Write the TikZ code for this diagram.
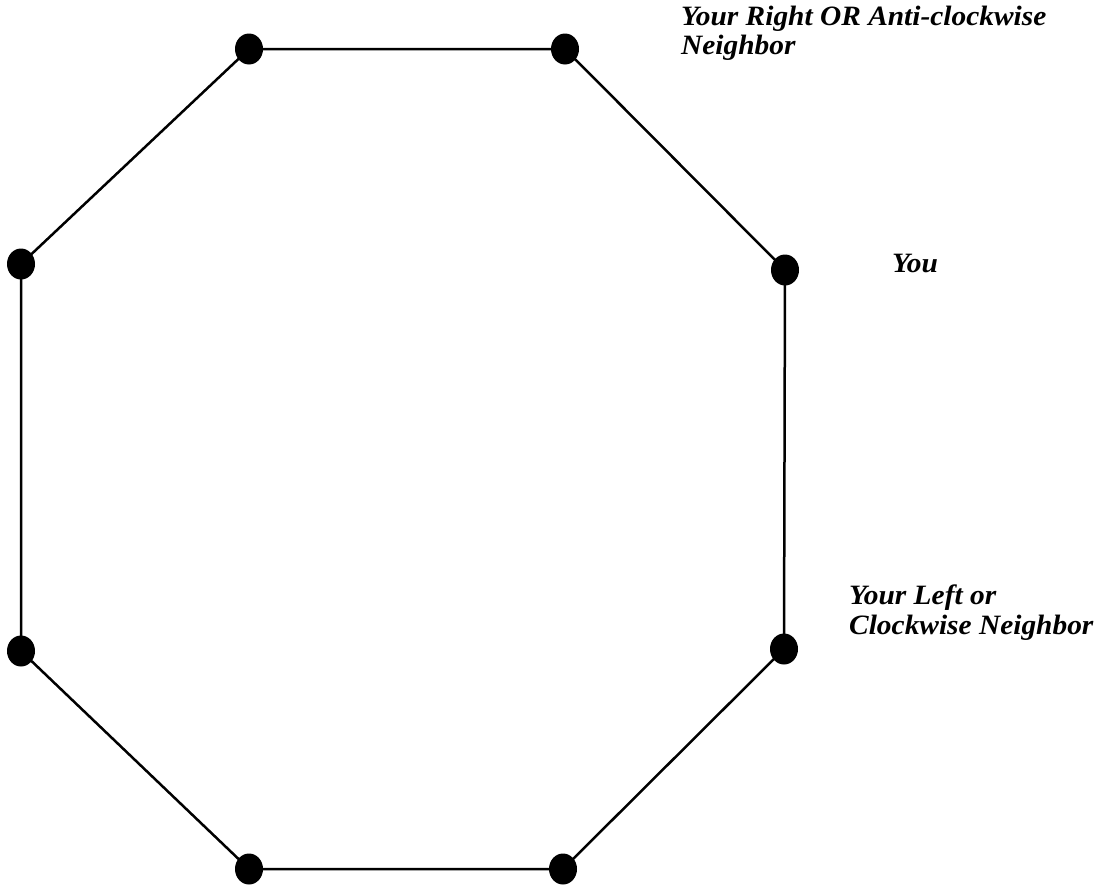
\documentclass[tikz,border=0pt]{standalone}
\usepackage{fontspec}
\setmainfont{Liberation Serif}
\usetikzlibrary{shapes.geometric}
\begin{document}
\begin{tikzpicture}[x=1pt,y=-1pt,
  edge/.style={line width=2.5pt, black},
  vdot/.style={ellipse, fill=black, minimum width=28pt, minimum height=31pt, inner sep=0pt},
  lbl/.style={anchor=base west, inner sep=0pt, xscale=1.05, font=\fontsize{28}{30}\selectfont\bfseries\itshape}]
\useasboundingbox (0,0) rectangle (1096,886);
\coordinate (A) at (249,49);
\coordinate (B) at (565,49);
\coordinate (C) at (785,270);
\coordinate (D) at (784,649);
\coordinate (E) at (563,869);
\coordinate (F) at (249,869);
\coordinate (G) at (21,651);
\coordinate (H) at (21,264);
\draw[edge] (A) -- (B) -- (C) -- (D) -- (E) -- (F) -- (G) -- (H) -- cycle;
\foreach \p in {A,B,C,D,E,F,G,H} \node[vdot] (d\p) at (\p) {};
\node[lbl] (r1) at (681,25) {Your Right OR Anti-clockwise};
\node[lbl] (r2) at (681,54) {Neighbor};
\node[lbl] (you) at (892,272) {You};
\node[lbl] (l1) at (849,604) {Your Left or};
\node[lbl] (l2) at (849,634) {Clockwise Neighbor};
\end{tikzpicture}
\end{document}
